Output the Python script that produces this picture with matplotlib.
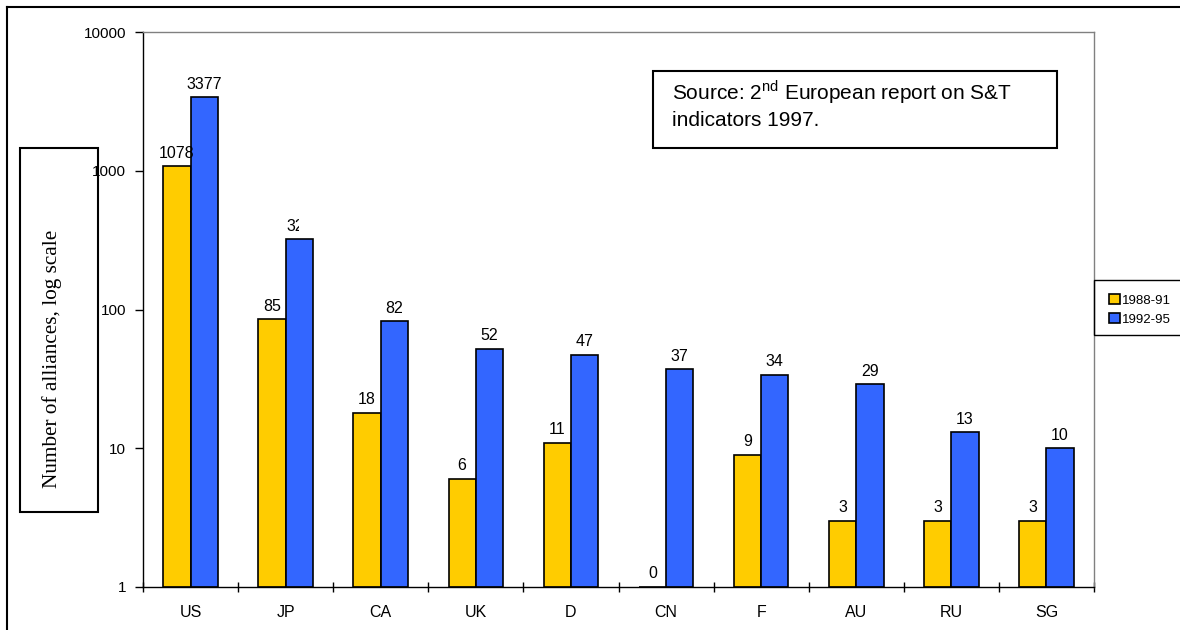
import numpy as np
import matplotlib
matplotlib.use("Agg")
import matplotlib.pyplot as plt
from matplotlib.patches import Rectangle
from matplotlib.lines import Line2D
from matplotlib.ticker import FixedLocator, FuncFormatter, NullFormatter
from matplotlib.transforms import Bbox, TransformedBbox

# Strategic technology alliances by country, two periods
countries = ["US", "JP", "CA", "UK", "D", "CN", "F", "AU", "RU", "SG"]
period_labels = ["1988-91", "1992-95"]
alliances_1988_91 = [1078, 85, 18, 6, 11, 0, 9, 3, 3, 3]
alliances_1992_95 = [3377, 320, 82, 52, 47, 37, 34, 29, 13, 10]
ytick_values = [1, 10, 100, 1000, 10000]

YELLOW = "#FFCC00"
BLUE = "#3366FF"

plt.rcParams["font.family"] = ["Liberation Sans", "DejaVu Sans"]
plt.rcParams["mathtext.fontset"] = "custom"
plt.rcParams["mathtext.rm"] = "Liberation Sans"

W, H = 1180, 630
fig = plt.figure(figsize=(W / 100, H / 100), dpi=100)


def fx(px):
    return px / W


def fy(py):
    return 1 - py / H


ax = fig.add_axes([fx(143), fy(587), fx(1094) - fx(143), fy(32) - fy(587)])
ax.set_yscale("log")
ax.set_ylim(1, 10000)
ax.set_xlim(-0.5, len(countries) - 0.5)

x = np.arange(len(countries))
bw = 0.2875
series = [np.array(alliances_1988_91, float), np.array(alliances_1992_95, float)]
colors = [YELLOW, BLUE]
offsets = [-bw / 2, bw / 2]
containers = []
for vals, col, off, lab in zip(series, colors, offsets, period_labels):
    heights = np.where(vals > 0, vals - 1, 0)
    bars = ax.bar(x + off, heights, bottom=1, width=bw, color=col,
                  edgecolor="black", linewidth=1.2, label=lab, zorder=2)
    containers.append(bars)

# value labels above each bar; the JP 1992-95 label is cut off at the bar centre
clipped = {(1, "JP")}
for s, (vals, off) in enumerate(zip(series, offsets)):
    for i, v in enumerate(vals):
        ypos = v if v > 0 else 1
        t = ax.annotate(f"{int(v)}", (x[i] + off, ypos), xytext=(0, 4),
                        textcoords="offset points", ha="center", va="bottom",
                        fontsize=11.5, zorder=3)
        if (s, countries[i]) in clipped:
            box = TransformedBbox(Bbox([[x[i] - 0.5, 0], [x[i] + off, 1]]),
                                  ax.get_xaxis_transform())
            t.set_clip_box(box)
            t.set_clip_on(True)

# axes styling
for side in ["left", "bottom"]:
    ax.spines[side].set_color("black")
    ax.spines[side].set_linewidth(1.0)
for side in ["top", "right"]:
    ax.spines[side].set_color("#808080")
    ax.spines[side].set_linewidth(1.0)

ax.yaxis.set_major_locator(FixedLocator(ytick_values))
ax.yaxis.set_minor_locator(FixedLocator([]))
ax.yaxis.set_major_formatter(FuncFormatter(lambda v, p: f"{v:g}"))
ax.tick_params(axis="y", which="major", direction="out", length=6, width=1,
               labelsize=11, pad=6)

ax.xaxis.set_major_locator(FixedLocator(np.arange(-0.5, len(countries), 1.0)))
ax.xaxis.set_major_formatter(NullFormatter())
ax.xaxis.set_minor_locator(FixedLocator(x))
ax.set_xticklabels(countries, minor=True)
ax.tick_params(axis="x", which="major", direction="inout", length=7, width=1)
ax.tick_params(axis="x", which="minor", length=0, labelsize=11.5, pad=13)

# outer chart frame
fig.add_artist(Line2D([fx(7.3), 1.01], [fy(6.7), fy(6.7)], color="black", lw=1.5))
fig.add_artist(Line2D([fx(7.3), fx(7.3)], [fy(6.7), -0.01], color="black", lw=1.5))

# boxed axis title
fig.add_artist(Rectangle((fx(20), fy(512)), fx(98) - fx(20), fy(148) - fy(512),
                         fill=False, edgecolor="black", lw=1.5))
fig.text(fx(52.5), fy(358.5), "Number of alliances, log scale", rotation=90,
         ha="center", va="center", fontsize=15.3,
         family=["Liberation Serif", "DejaVu Serif"])

# source note
fig.add_artist(Rectangle((fx(653), fy(148)), fx(1057) - fx(653), fy(70.7) - fy(148),
                         fill=False, edgecolor="black", lw=1.5, facecolor="white"))
fig.text(fx(672), fy(92), r"Source: 2$^{\mathrm{nd}}$ European report on S&T",
         ha="left", va="center", fontsize=15)
fig.text(fx(672), fy(120), "indicators 1997.", ha="left", va="center",
         fontsize=15)

# legend
fig.add_artist(Rectangle((fx(1094), fy(335)), 0.2, fy(280) - fy(335),
                         fill=False, edgecolor="black", lw=1.0))
fig.legend(handles=containers, labels=period_labels, loc="center left",
           bbox_to_anchor=(fx(1109), fy(310)), fontsize=9.5, frameon=False,
           handlelength=0.8, handleheight=0.8, handletextpad=0.2,
           labelspacing=0.5, borderpad=0, borderaxespad=0)

fig.savefig("out.png", dpi=100)
